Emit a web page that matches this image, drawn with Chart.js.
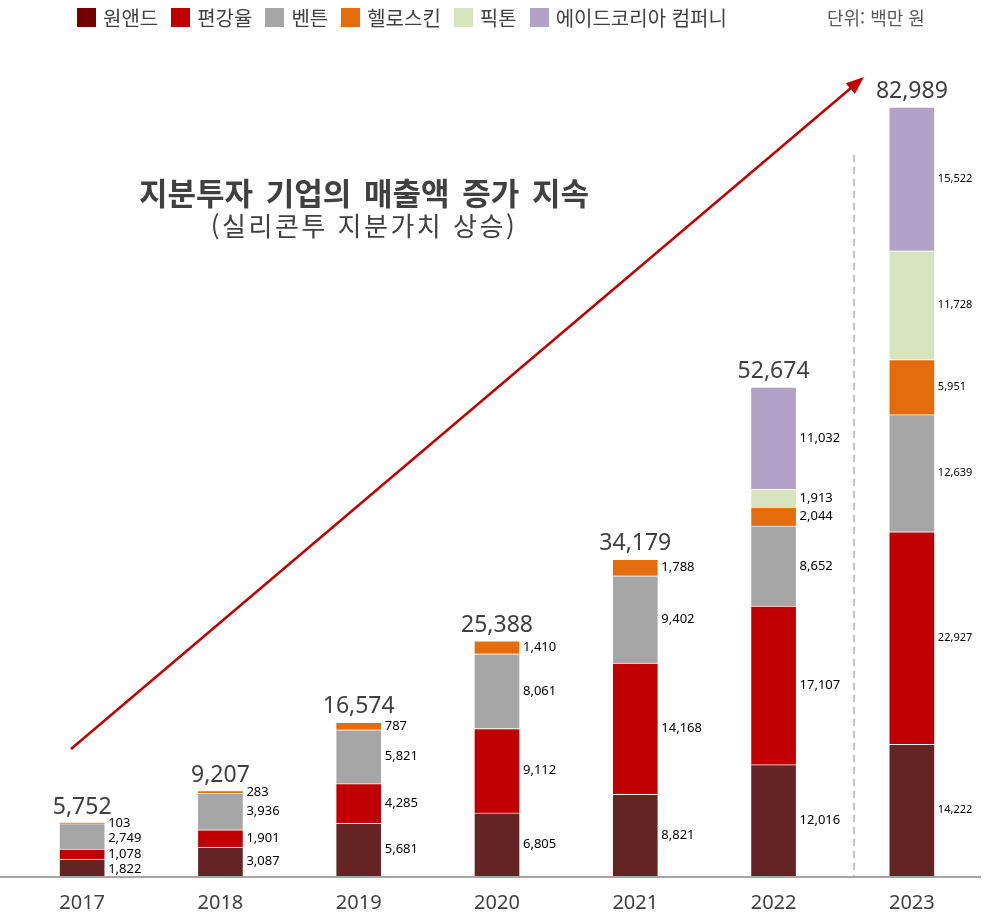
<!DOCTYPE html>
<html lang="ko">
<head>
<meta charset="UTF-8">
<title>지분투자 기업의 매출액 증가 지속</title>
<script src="https://cdn.jsdelivr.net/npm/chart.js"></script>
<style>
    body {
        margin: 0;
        background: #fff;
        font-family: "Noto Sans CJK KR", "Noto Sans", sans-serif;
    }

    #wrap {
        position: relative;
        width: 988px;
        height: 912px;
    }

    #legend {
        position: absolute;
        left: 77px;
        top: 3px;
        display: flex;
        align-items: center;
        font-size: 20px;
        color: #404040;
    }

    #legend .item {
        display: flex;
        align-items: center;
        margin-right: 13px;
    }

    #legend .box {
        width: 19px;
        height: 19px;
        margin-right: 7px;
    }

    #unit {
        position: absolute;
        left: 827px;
        top: 4px;
        font-size: 18px;
        color: #595959;
    }

    .title {
        position: absolute;
        left: 364px;
        transform: translateX(-50%);
        color: #404040;
        white-space: nowrap;
    }

    #title1 {
        top: 169px;
        font-size: 31px;
        font-weight: bold;
        word-spacing: 4px;
    }

    #title2 {
        top: 206px;
        font-size: 26px;
        letter-spacing: 2.5px;
    }
</style>
</head>
<body>
<div id="wrap">
    <canvas id="chart"></canvas>
    <div id="legend"></div>
    <div id="unit">단위: 백만 원</div>
    <div class="title" id="title1">지분투자 기업의 매출액 증가 지속</div>
    <div class="title" id="title2">(실리콘투 지분가치 상승)</div>
</div>

<script>
    // data, in million won
    const years = ['2017', '2018', '2019', '2020', '2021', '2022', '2023'];
    const oneand = [1822, 3087, 5681, 6805, 8821, 12016, 14222];       // 원앤드
    const pyeonkang = [1078, 1901, 4285, 9112, 14168, 17107, 22927];   // 편강율
    const benton = [2749, 3936, 5821, 8061, 9402, 8652, 12639];        // 벤튼
    const hellskin = [103, 283, 787, 1410, 1788, 2044, 5951];          // 헬로스킨
    const picton = [null, null, null, null, null, 1913, 11728];        // 픽톤
    const aidkorea = [null, null, null, null, null, 11032, 15522];     // 에이드코리아 컴퍼니
    const totals = [5752, 9207, 16574, 25388, 34179, 52674, 82989];

    const series = [
        { label: '원앤드', data: oneand, color: '#632423', legend: '#720000' },
        { label: '편강율', data: pyeonkang, color: '#c00000', legend: '#c00000' },
        { label: '벤튼', data: benton, color: '#a6a6a6', legend: '#a6a6a6' },
        { label: '헬로스킨', data: hellskin, color: '#e46c0a', legend: '#e46c0a' },
        { label: '픽톤', data: picton, color: '#d7e4bd', legend: '#d7e4bd' },
        { label: '에이드코리아 컴퍼니', data: aidkorea, color: '#b2a2c7', legend: '#b2a2c7' }
    ];

    // html legend
    const legendEl = document.getElementById('legend');
    series.forEach(s => {
        const item = document.createElement('div');
        item.className = 'item';
        item.innerHTML = '<span class="box" style="background:' + s.legend + '"></span>' + s.label;
        legendEl.appendChild(item);
    });

    const fmt = v => v.toLocaleString('en-US');

    // value labels, totals, arrow, dashed divider and base line
    const decorations = {
        id: 'decorations',
        afterDatasetsDraw(chart) {
            const ctx = chart.ctx;
            const area = chart.chartArea;
            ctx.save();

            // base line
            ctx.strokeStyle = '#a6a6a6';
            ctx.lineWidth = 2;
            ctx.beginPath();
            ctx.moveTo(0, area.bottom + 1);
            ctx.lineTo(area.right, area.bottom + 1);
            ctx.stroke();

            // dashed divider before 2023
            ctx.lineWidth = 1.3;
            ctx.setLineDash([7, 5]);
            ctx.beginPath();
            ctx.moveTo(854, 155);
            ctx.lineTo(854, area.bottom);
            ctx.stroke();
            ctx.setLineDash([]);

            // segment labels
            ctx.fillStyle = '#000';
            ctx.textAlign = 'left';
            ctx.textBaseline = 'middle';
            years.forEach((y, j) => {
                ctx.font = (j === 6 ? '11px' : '13px') + ' "Noto Sans", sans-serif';
                let prev = -Infinity;
                for (let i = series.length - 1; i >= 0; i--) {
                    const v = series[i].data[j];
                    if (v == null) continue;
                    const bar = chart.getDatasetMeta(i).data[j];
                    let cy = (bar.y + bar.base) / 2;
                    if (cy < prev + 15) cy = prev + 15;
                    prev = cy;
                    ctx.fillText(fmt(v), bar.x + bar.width / 2 + 3, cy);
                }
            });

            // totals
            ctx.font = '23px "Noto Sans", sans-serif';
            ctx.fillStyle = '#404040';
            ctx.textAlign = 'center';
            ctx.textBaseline = 'alphabetic';
            totals.forEach((t, j) => {
                let top = area.bottom;
                series.forEach((s, i) => {
                    if (s.data[j] == null) return;
                    top = Math.min(top, chart.getDatasetMeta(i).data[j].y);
                });
                ctx.fillText(fmt(t), chart.getDatasetMeta(0).data[j].x, top - 9);
            });

            // growth arrow
            const x0 = 71, y0 = 749, x1 = 864, y1 = 77;
            const ang = Math.atan2(y1 - y0, x1 - x0);
            ctx.strokeStyle = '#c00000';
            ctx.fillStyle = '#c00000';
            ctx.lineWidth = 2.5;
            ctx.beginPath();
            ctx.moveTo(x0, y0);
            ctx.lineTo(x1 - 14 * Math.cos(ang), y1 - 14 * Math.sin(ang));
            ctx.stroke();
            ctx.beginPath();
            ctx.moveTo(x1, y1);
            ctx.lineTo(x1 - 18 * Math.cos(ang) + 7 * Math.sin(ang), y1 - 18 * Math.sin(ang) - 7 * Math.cos(ang));
            ctx.lineTo(x1 - 18 * Math.cos(ang) - 7 * Math.sin(ang), y1 - 18 * Math.sin(ang) + 7 * Math.cos(ang));
            ctx.closePath();
            ctx.fill();

            ctx.restore();
        }
    };

    new Chart(document.getElementById('chart'), {
        type: 'bar',
        data: {
            labels: years,
            datasets: series.map(s => ({
                label: s.label,
                data: s.data,
                backgroundColor: s.color,
                borderColor: 'rgba(255,255,255,0.55)',
                borderWidth: 1,
                borderSkipped: 'start',
                barThickness: 46
            }))
        },
        options: {
            responsive: true,
            maintainAspectRatio: false,
            animation: false,
            layout: { padding: { left: 13, right: 7, top: 42, bottom: 0 } },
            plugins: {
                legend: { display: false },
                tooltip: { enabled: false }
            },
            scales: {
                x: {
                    stacked: true,
                    grid: { display: false, drawTicks: false },
                    border: { display: false },
                    ticks: {
                        color: '#404040',
                        font: { family: '"Noto Sans", sans-serif', size: 20 },
                        padding: 15
                    },
                    afterFit(scale) { scale.height = 36; }
                },
                y: {
                    stacked: true,
                    display: false,
                    min: 0,
                    max: 90000
                }
            }
        },
        plugins: [decorations]
    });
</script>
</body>
</html>
